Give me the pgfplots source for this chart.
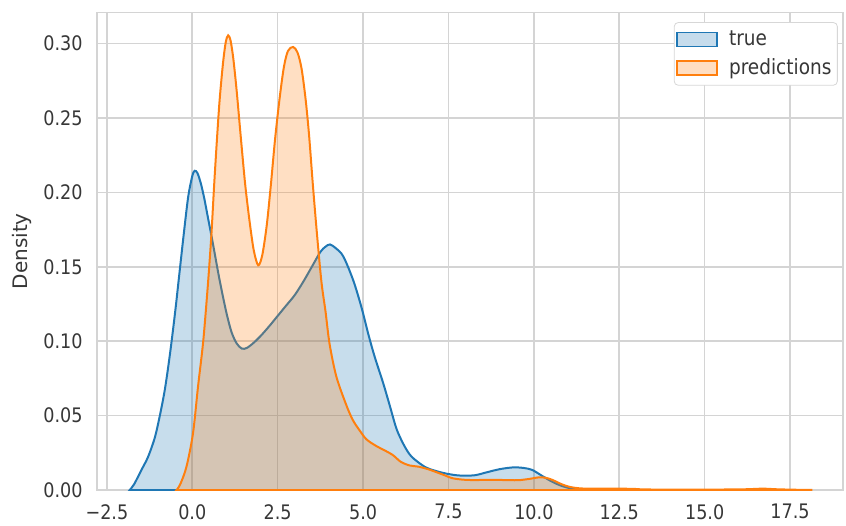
\documentclass[border=0pt]{standalone}
\usepackage{pgfplots}
\pgfplotsset{compat=1.18}
\usepackage{fontspec}
\setmainfont{DejaVu Sans}[FakeStretch=0.88]
\newfontfamily\labfont{DejaVu Sans}
\definecolor{c1}{RGB}{31,119,180}
\definecolor{c2}{RGB}{255,127,14}
\definecolor{gridc}{RGB}{212,212,212}
\definecolor{legc}{RGB}{215,215,215}
\definecolor{tickc}{RGB}{55,55,55}
\pgfplotstableread{
x y
-1.83 0.000
-1.70 0.004
-1.50 0.013
-1.30 0.022
-1.10 0.035
-0.95 0.050
-0.80 0.068
-0.65 0.092
-0.50 0.120
-0.38 0.145
-0.25 0.172
-0.12 0.197
0.00 0.211
0.07 0.2145
0.15 0.213
0.25 0.206
0.35 0.196
0.45 0.184
0.60 0.166
0.80 0.141
1.00 0.119
1.15 0.106
1.30 0.0985
1.45 0.0950
1.60 0.0955
1.80 0.0990
2.00 0.1035
2.25 0.110
2.50 0.117
2.75 0.124
3.00 0.131
3.25 0.140
3.50 0.150
3.75 0.160
3.90 0.1635
4.03 0.165
4.20 0.1625
4.42 0.157
4.71 0.141
4.95 0.123
5.15 0.105
5.34 0.0895
5.59 0.0717
5.79 0.056
5.98 0.041
6.20 0.030
6.42 0.0224
6.81 0.0155
7.10 0.013
7.40 0.0112
7.70 0.010
7.99 0.0096
8.30 0.010
8.57 0.0116
9.00 0.0140
9.40 0.0152
9.70 0.0148
9.95 0.0135
10.24 0.0095
10.50 0.0060
10.74 0.0034
11.00 0.0015
11.30 0.0003
11.60 0.0
}\truedata
\pgfplotstableread{
x y
-0.46 0.000
-0.35 0.004
-0.17 0.0157
0.02 0.038
0.17 0.070
0.32 0.100
0.46 0.139
0.56 0.172
0.64 0.205
0.72 0.235
0.80 0.262
0.90 0.287
0.98 0.301
1.05 0.3055
1.12 0.302
1.20 0.290
1.30 0.268
1.42 0.237
1.55 0.205
1.68 0.180
1.80 0.161
1.93 0.151
2.05 0.158
2.18 0.178
2.30 0.205
2.42 0.235
2.55 0.262
2.68 0.284
2.80 0.295
2.95 0.2977
3.08 0.294
3.20 0.283
3.32 0.262
3.42 0.238
3.53 0.205
3.65 0.172
3.78 0.140
3.90 0.120
4.02 0.098
4.22 0.076
4.51 0.057
4.70 0.047
4.90 0.040
5.10 0.034
5.39 0.0295
5.60 0.027
5.87 0.0235
6.10 0.019
6.36 0.0165
6.62 0.0157
6.90 0.014
7.11 0.0123
7.40 0.0098
7.60 0.0080
7.90 0.0070
8.19 0.0067
8.87 0.0068
9.30 0.0066
9.56 0.0066
9.85 0.0074
10.15 0.0085
10.35 0.0082
10.54 0.0068
10.80 0.0040
11.03 0.0022
11.30 0.0012
11.60 0.0009
12.14 0.0009
12.86 0.0008
13.20 0.0004
13.86 0.0003
15.29 0.0003
16.20 0.0005
16.70 0.0009
17.10 0.0005
17.60 0.0002
18.15 0.0
}\preddata
\begin{document}
\begin{tikzpicture}
\begin{axis}[
  scale only axis, width=373pt, height=238.7pt,
  xmin=-2.79, xmax=19.05, ymin=0, ymax=0.3208,
  xtick={-2.5,0,2.5,5,7.5,10,12.5,15,17.5},
  xticklabels={−2.5,0.0,2.5,5.0,7.5,10.0,12.5,15.0,17.5},
  ytick={0,0.05,0.1,0.15,0.2,0.25,0.3},
  yticklabels={0.00,0.05,0.10,0.15,0.20,0.25,0.30},
  major tick length=0pt,
  grid=major, grid style={draw=gridc, line width=0.8pt},
  axis line style={draw=gridc, line width=0.8pt},
  tick label style={font=\fontsize{10}{12}\selectfont, text=tickc},
  xticklabel style={anchor=north, inner sep=0pt, yshift=-7pt},
  yticklabel style={anchor=east, inner sep=0pt, xshift=-7pt},
  ylabel={Density},
  every axis y label/.style={at={(axis description cs:-0.1005,0.5)}, rotate=90, anchor=center, font=\labfont\fontsize{10}{12}\selectfont, text=tickc},
  legend cell align=left,
  legend style={at={(0.993,0.98)}, anchor=north east, draw=legc, fill=white, rounded corners=2pt, font=\fontsize{10.5}{12}\selectfont, text=tickc, inner xsep=1pt, inner ysep=1.5pt, nodes={inner ysep=2.5pt, inner xsep=2pt}},
  legend image code/.code={\draw[#1, line width=0.8pt, sharp corners] (0pt,-3.5pt) rectangle (20pt,3.5pt); \path[draw=none, fill=none] (0pt,0pt) -- (24pt,0pt);},
]
\addplot[draw=c1, line width=1pt, fill=c1, fill opacity=0.25, smooth, tension=0.5] table[x=x,y=y] {\truedata} \closedcycle;
\addlegendentry{true}
\addplot[draw=c2, line width=1pt, fill=c2, fill opacity=0.25, smooth, tension=0.5] table[x=x,y=y] {\preddata} \closedcycle;
\addlegendentry{predictions}
\coordinate (ll) at (rel axis cs:0,0);
\coordinate (ur) at (rel axis cs:1,1);
\end{axis}
\pgfresetboundingbox
\path ([shift={(-48.5pt,-17.5pt)}]ll) rectangle ([shift={(1.5pt,6.3pt)}]ur);
\end{tikzpicture}
\end{document}
